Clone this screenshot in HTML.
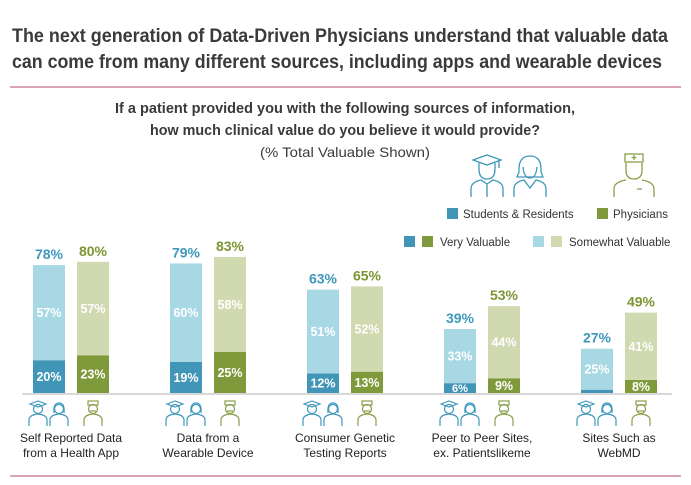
<!DOCTYPE html>
<html><head><meta charset="utf-8"><style>
body{margin:0;width:691px;height:485px;background:#fff;font-family:"Liberation Sans",sans-serif;overflow:hidden}
svg{display:block}
</style></head><body>
<svg width="691" height="485">
<text x="12" y="42" font-size="19" font-weight="bold" fill="#3a3a3a" textLength="656" lengthAdjust="spacingAndGlyphs">The next generation of Data-Driven Physicians understand that valuable data</text>
<text x="12" y="68" font-size="19" font-weight="bold" fill="#3a3a3a" textLength="650" lengthAdjust="spacingAndGlyphs">can come from many different sources, including apps and wearable devices</text>
<line x1="10" y1="87" x2="681" y2="87" stroke="#d9a3b3" stroke-width="2"/>
<text x="345" y="113" font-size="14.5" font-weight="bold" fill="#3a3a3a" text-anchor="middle" textLength="460" lengthAdjust="spacingAndGlyphs">If a patient provided you with the following sources of information,</text>
<text x="345" y="135" font-size="14.5" font-weight="bold" fill="#3a3a3a" text-anchor="middle" textLength="390" lengthAdjust="spacingAndGlyphs">how much clinical value do you believe it would provide?</text>
<text x="345" y="157" font-size="14" fill="#3a3a3a" text-anchor="middle" textLength="170" lengthAdjust="spacingAndGlyphs">(% Total Valuable Shown)</text>
<g fill="none" stroke="#3e98bc" stroke-width="1.3">
<path d="M473 160 l14-5 l14 5 l-14 5z M499 160 v8"/><path d="M479 163 v6 q0 10 8 10 q8 0 8-10 v-6"/><path d="M471 197 v-8 q0-7 10-9 l6 4 l6-4 q10 2 10 9 v8 M487 184 v13"/>
<path d="M519 172 q-1-16 11-16 q12 0 11 16 l2 5 h-26z"/><path d="M523 167 q1 11 7 11 q6 0 7-11"/><path d="M514 197 v-8 q0-7 10-9 l6 8 l6-8 q10 2 10 9 v8"/>
</g>
<g fill="none" stroke="#8a9e4a" stroke-width="1.3">
<rect x="625" y="154" width="18" height="8"/><path d="M634 155 v5 M631.5 157.5 h5"/><path d="M626 163 v7 q0 9 8 9 q8 0 8-9 v-7"/><path d="M614 197 v-8 q0-7 12-9 M654 197 v-8 q0-7-12-9 M637 189 h5"/>
</g>
<g id="legend" font-size="11.5" fill="#333">
<rect x="447" y="208" width="11" height="11" fill="#4196b8"/>
<text x="463" y="218">Students &amp; Residents</text>
<rect x="597" y="208" width="11" height="11" fill="#7f9a3a"/>
<text x="613" y="218">Physicians</text>
<rect x="404" y="236" width="11" height="11" fill="#4196b8"/>
<rect x="422" y="236" width="11" height="11" fill="#7f9a3a"/>
<text x="440" y="246">Very Valuable</text>
<rect x="533" y="236" width="11" height="11" fill="#a8d8e4"/>
<rect x="551" y="236" width="11" height="11" fill="#d0d9b0"/>
<text x="569" y="246">Somewhat Valuable</text>
</g>
<g id="bars"></g>
<line x1="22" y1="394" x2="672" y2="394" stroke="#d8d8d8" stroke-width="2"/>
<line x1="10" y1="476" x2="681" y2="476" stroke="#d9a3b3" stroke-width="2"/>
</svg>
<script>
const categories=[["Self Reported Data","from a Health App"],["Data from a","Wearable Device"],["Consumer Genetic","Testing Reports"],["Peer to Peer Sites,","ex. Patientslikeme"],["Sites Such as","WebMD"]];
const studVery=[20,19,12,6,2];
const studSome=[57,60,51,33,25];
const studTotal=[78,79,63,39,27];
const physVery=[23,25,13,9,8];
const physSome=[57,58,52,44,41];
const physTotal=[80,83,65,53,49];
const NS="http://www.w3.org/2000/svg";
const g=document.getElementById('bars');
const base=393,k=1.64,bw=32;
const y=v=>base-v*k;
const gx=i=>33+i*137;
function el(t,a,txt){const e=document.createElementNS(NS,t);for(const n in a)e.setAttribute(n,a[n]);if(txt!=null)e.textContent=txt;g.appendChild(e);return e;}
function person(x,yy,col,type){
 const p=document.createElementNS(NS,'g');p.setAttribute('fill','none');p.setAttribute('stroke',col);p.setAttribute('stroke-width','1.2');
 
 
 let s='<circle cx="'+x+'" cy="'+(yy+8)+'" r="4.5"/><path d="M'+(x-9)+' '+(yy+25)+' v-6 q0-5 9-6 q9 1 9 6 v6"/>';
 if(type==='grad')s+='<path d="M'+(x-8)+' '+(yy+3)+' l8-3 l8 3 l-8 3z"/>';
 if(type==='woman')s+='<path d="M'+(x-5)+' '+(yy+12)+' q-1-10 5-10 q6 0 5 10"/>';
 if(type==='doc')s+='<rect x="'+(x-5)+'" y="'+(yy)+'" width="10" height="4"/><path d="M'+(x-3)+' '+(yy+10)+' h6"/>';
 p.innerHTML=s;g.appendChild(p);
}
categories.forEach((c,i)=>{
 const xs=gx(i),xp=xs+44;
 let r=el('rect',{x:xs,y:y(studVery[i]),width:bw,height:studVery[i]*k,fill:'#4196b8'});
 
 
 r=el('rect',{x:xs,y:y(studTotal[i]),width:bw,height:(studTotal[i]-studVery[i])*k,fill:'#a8d8e4'});
 
 
 r=el('rect',{x:xp,y:y(physVery[i]),width:bw,height:physVery[i]*k,fill:'#7f9a3a'});
 
 
 r=el('rect',{x:xp,y:y(physTotal[i]),width:bw,height:(physTotal[i]-physVery[i])*k,fill:'#d0d9b0'});
 
 
 const lbl=(x,yy,t,col,sz,nm)=>{const e=el('text',{x:x+bw/2,y:yy,'text-anchor':'middle','font-size':sz,'font-weight':'bold',fill:col},t);
  
  };
 lbl(xs,y(studTotal[i])-6,studTotal[i]+'%','#3e98bc',14,'total-students-'+i);
 lbl(xp,y(physTotal[i])-6,physTotal[i]+'%','#7c9632',14,'total-physicians-'+i);
 if(studVery[i]>8)lbl(xs,(y(studVery[i])+base)/2+4.5,studVery[i]+'%','#fff',12.5,'very-students-'+i);
 else if(studVery[i]>4)lbl(xs,base-1,studVery[i]+'%','#fff',11,'very-students-'+i);
 lbl(xp,(y(physVery[i])+base)/2+4.5,physVery[i]+'%','#fff',12.5,'very-physicians-'+i);
 lbl(xs,(y(studTotal[i])+y(studVery[i]))/2+4.5,studSome[i]+'%','#fff',12.5,'somewhat-students-'+i);
 lbl(xp,(y(physTotal[i])+y(physVery[i]))/2+4.5,physSome[i]+'%','#fff',12.5,'somewhat-physicians-'+i);
 person(xs+5,401,'#3e98bc','grad');person(xs+26,401,'#3e98bc','woman');person(xp+16,401,'#8a9e4a','doc');
 c.forEach((ln,j)=>{const t=el('text',{x:xs+38,y:442+j*15,'text-anchor':'middle','font-size':12,fill:'#222'},ln);
  
  });
});
</script>
</body></html>
